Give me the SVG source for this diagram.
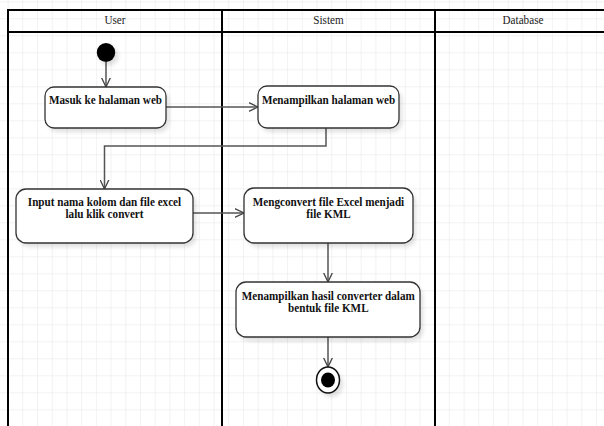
<svg xmlns="http://www.w3.org/2000/svg" width="604" height="426" viewBox="0 0 604 426">
<defs>
<pattern id="grid" x="8.6" y="2.3" width="14.71" height="17" patternUnits="userSpaceOnUse">
<path d="M14.71 0V17M0 17H14.71" fill="none" stroke="#e6e6e6" stroke-width="1"/>
</pattern>
<filter id="sh" x="-20%" y="-20%" width="150%" height="150%">
<feGaussianBlur stdDeviation="2"/>
</filter>
<marker id="arr" viewBox="0 0 10 10" refX="9.5" refY="5" markerWidth="10" markerHeight="10" markerUnits="userSpaceOnUse" orient="auto">
<path d="M0 0.5L9.5 5L0 9.5" fill="none" stroke="#444" stroke-width="1.3"/>
</marker>
<style>
.lane{fill:none;stroke:#000;stroke-width:2}
.hdr{font-family:"Liberation Serif","Times New Roman",serif;font-size:13px;fill:#222;text-anchor:middle}
.lbl{font-family:"Liberation Serif","Times New Roman",serif;font-size:12px;font-weight:bold;fill:#111;text-anchor:middle}
.box{fill:#fff;stroke:#333;stroke-width:1.3}
.shd{fill:#000;opacity:0.12;filter:url(#sh)}
.con{fill:none;stroke:#555;stroke-width:1.5;marker-end:url(#arr)}
</style>
</defs>
<rect width="604" height="426" fill="#fff"/>
<rect width="604" height="426" fill="url(#grid)"/>
<g id="swimlanes">
<rect x="8" y="10" width="610" height="430" fill="none" class="lane"/>
<line x1="8" y1="32" x2="610" y2="32" class="lane"/>
<line x1="222" y1="10" x2="222" y2="430" class="lane"/>
<line x1="435" y1="10" x2="435" y2="430" class="lane"/>
<text class="hdr" transform="matrix(.86 0 0 1 115 24)">User</text>
<text class="hdr" transform="matrix(.86 0 0 1 328.5 24)">Sistem</text>
<text class="hdr" transform="matrix(.86 0 0 1 523 24)">Database</text>
</g>
<g id="connectors">
<line x1="106" y1="62" x2="106" y2="87" class="con"/>
<line x1="166" y1="107" x2="258" y2="107" class="con"/>
<polyline points="326,128 326,146 104.5,146 104.5,189" class="con"/>
<line x1="193" y1="213" x2="244" y2="213" class="con"/>
<line x1="328" y1="243" x2="328" y2="282" class="con"/>
<line x1="328" y1="337" x2="328" y2="367" class="con"/>
</g>
<g id="start">
<ellipse cx="109" cy="56" rx="9.5" ry="9.5" class="shd"/>
<ellipse cx="106" cy="52.5" rx="9.2" ry="9.4" fill="#000"/>
</g>
<g id="n1">
<rect x="48" y="91" width="121" height="41" rx="9" class="shd"/>
<rect x="45" y="87" width="121" height="41" rx="9" class="box"/>
<text class="lbl" transform="matrix(.93 0 0 1 105.5 104)">Masuk ke halaman web</text>
</g>
<g id="n2">
<rect x="261" y="90" width="141" height="42" rx="9" class="shd"/>
<rect x="258" y="86" width="141" height="42" rx="9" class="box"/>
<text class="lbl" transform="matrix(.93 0 0 1 328.5 104)">Menampilkan halaman web</text>
</g>
<g id="n3">
<rect x="19" y="193" width="177" height="54" rx="10" class="shd"/>
<rect x="16" y="189" width="177" height="54" rx="10" class="box"/>
<text class="lbl" transform="matrix(.93 0 0 1 104.5 206.3)"><tspan x="0" y="0">Input nama kolom dan file excel</tspan><tspan x="0" y="12">lalu klik convert</tspan></text>
</g>
<g id="n4">
<rect x="247" y="192" width="169" height="55" rx="10" class="shd"/>
<rect x="244" y="188" width="169" height="55" rx="10" class="box"/>
<text class="lbl" transform="matrix(.93 0 0 1 328.5 206.2)"><tspan x="0" y="0">Mengconvert file Excel menjadi</tspan><tspan x="0" y="12">file KML</tspan></text>
</g>
<g id="n5">
<rect x="239" y="286" width="184" height="55" rx="10" class="shd"/>
<rect x="236" y="282" width="184" height="55" rx="10" class="box"/>
<text class="lbl" transform="matrix(.93 0 0 1 328.3 299.8)"><tspan x="0" y="0">Menampilkan hasil converter dalam</tspan><tspan x="0" y="12">bentuk file KML</tspan></text>
</g>
<g id="end">
<ellipse cx="331" cy="384" rx="12" ry="13" class="shd"/>
<ellipse cx="328" cy="380" rx="11.5" ry="13" fill="#fff" stroke="#111" stroke-width="1.5"/>
<ellipse cx="328" cy="380" rx="7" ry="7.6" fill="#000"/>
</g>
</svg>
